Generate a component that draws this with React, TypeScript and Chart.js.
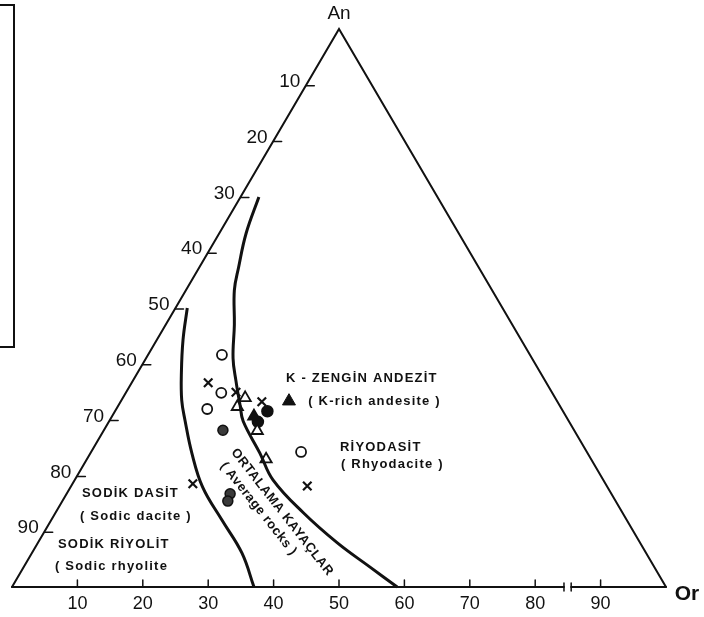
import React, { useEffect, useRef } from "react";
import { Chart, registerables } from "chart.js";

Chart.register(...registerables);

// Tick labels
const leftTickLabels = [10, 20, 30, 40, 50, 60, 70, 80, 90]; // along An–Ab edge (Ab %)
const baseTickLabels = [10, 20, 30, 40, 50, 60, 70, 80, 90]; // along Ab–Or edge (Or %)

// Boundary curves (An %, Or %)
const leftCurveAn = [50.0, 44.3, 38.4, 33.5, 29.9, 24.0, 17.9, 12.0, 6.1, 0];
const leftCurveOr = [1.8, 4.0, 6.7, 9.2, 11.5, 15.5, 20.2, 26.1, 32.1, 37.0];
const rightCurveAn = [69.9, 63.4, 57.3, 53.2, 47.0, 41.0, 36.9, 32.4, 29.7, 24.0, 19.2, 13.3, 7.9, 3.6, 0];
const rightCurveOr = [2.8, 4.1, 6.0, 7.4, 10.5, 13.3, 15.8, 18.7, 20.5, 25.9, 30.3, 37.9, 45.8, 52.9, 58.9];

// Samples (An %, Or %)
const openCircleAn = [41.6, 34.8, 31.9, 24.2];
const openCircleOr = [11.3, 14.6, 13.9, 32.1];
const crossAn = [36.6, 34.9, 33.2, 18.5, 18.1];
const crossOr = [11.7, 16.8, 21.6, 18.4, 36.1];
const openTriangleAn = [33.9, 32.3, 28.0, 22.9];
const openTriangleOr = [18.7, 18.3, 23.5, 27.4];
const filledCircleAn = [31.5, 29.6];
const filledCircleOr = [23.3, 22.8];
const filledTriangleAn = [30.6];
const filledTriangleOr = [21.7];
const hatchedCircleAn = [28.1, 16.7, 15.4];
const hatchedCircleOr = [18.2, 25.0, 25.3];
const kRichAndesiteAn = [33.3];
const kRichAndesiteOr = [25.7];

// Field labels: [text, An, x-position(%)]
const fieldLabels: [string, number, number][] = [
  ["K - ZENGİN ANDEZİT", 37.3, 41.9],
  ["( K-rich andesite )", 33.3, 45.3],
  ["RİYODASİT", 25.1, 50.15],
  ["( Rhyodacite )", 22.0, 50.3],
  ["SODİK DASİT", 16.7, 10.7],
  ["( Sodic dacite )", 12.7, 10.4],
  ["SODİK RİYOLİT", 7.7, 7.03],
  ["( Sodic rhyolite", 3.76, 6.57],
];

const toXY = (an: number[], or: number[]) => an.map((a, i) => ({ x: or[i] + a / 2, y: a }));

const ternaryFrame = {
  id: "ternaryFrame",
  beforeDatasetsDraw(chart: any) {
    const { ctx } = chart;
    const xs = chart.scales.x;
    const ys = chart.scales.y;
    const P = (an: number, or: number) => [xs.getPixelForValue(or + an / 2), ys.getPixelForValue(an)];
    ctx.save();
    ctx.strokeStyle = "#111";
    ctx.fillStyle = "#111";
    ctx.lineCap = "round";
    ctx.lineWidth = 2;
    const [ax, ay] = P(100, 0);
    const [lx, ly] = P(0, 0);
    const [rx, ry] = P(0, 100);
    ctx.beginPath();
    ctx.moveTo(lx, ly);
    ctx.lineTo(ax, ay);
    ctx.lineTo(rx, ry);
    ctx.stroke();
    // base with break
    const [g1x] = P(0, 84.4);
    const [g2x] = P(0, 85.5);
    ctx.beginPath();
    ctx.moveTo(lx, ly);
    ctx.lineTo(g1x, ly);
    ctx.moveTo(g2x, ly);
    ctx.lineTo(rx, ry);
    ctx.stroke();
    ctx.lineWidth = 1.5;
    ctx.beginPath();
    ctx.moveTo(g1x, ly - 4);
    ctx.lineTo(g1x, ly + 4);
    ctx.moveTo(g2x, ly - 4);
    ctx.lineTo(g2x, ly + 4);
    ctx.stroke();
    // base ticks & labels
    ctx.font = "18px 'Liberation Sans'";
    ctx.textAlign = "center";
    ctx.textBaseline = "middle";
    baseTickLabels.forEach((v) => {
      const [px, py] = P(0, v);
      ctx.beginPath();
      ctx.moveTo(px, py);
      ctx.lineTo(px, py - 7);
      ctx.stroke();
      ctx.fillText(String(v), px, py + 17);
    });
    // left edge ticks & labels
    ctx.font = "19px 'Liberation Sans'";
    ctx.textAlign = "right";
    leftTickLabels.forEach((v) => {
      const [px, py] = P(100 - v, 0);
      ctx.beginPath();
      ctx.moveTo(px, py + 1);
      ctx.lineTo(px + 8, py + 1);
      ctx.stroke();
      ctx.fillText(String(v), px - 6, py - 3);
    });
    // apex labels
    ctx.textAlign = "center";
    ctx.font = "19px 'Liberation Sans'";
    ctx.fillText("An", ax, ay - 15);
    ctx.font = "bold 21px 'Liberation Sans'";
    ctx.fillText("Or", rx + 21, ry + 7);
    // partial box at left
    ctx.lineWidth = 2;
    ctx.lineCap = "butt";
    ctx.beginPath();
    ctx.moveTo(0, 5);
    ctx.lineTo(14, 5);
    ctx.lineTo(14, 347);
    ctx.lineTo(0, 347);
    ctx.stroke();
    // field labels
    ctx.font = "bold 13px 'Liberation Sans'";
    (ctx as any).letterSpacing = "1.2px";
    ctx.textAlign = "left";
    fieldLabels.forEach(([t, an, x]) => {
      ctx.fillText(t, xs.getPixelForValue(x), ys.getPixelForValue(an));
    });
    // rotated labels along curves
    (ctx as any).letterSpacing = "0.6px";
    const rot = (t: string, an: number, x: number, deg: number) => {
      ctx.save();
      ctx.translate(xs.getPixelForValue(x), ys.getPixelForValue(an));
      ctx.rotate((deg * Math.PI) / 180);
      ctx.textAlign = "center";
      ctx.fillText(t, 0, 0);
      ctx.restore();
    };
    rot("ORTALAMA KAYAÇLAR", 13.4, 41.3, 52);
    rot("( Average rocks )", 14.0, 37.7, 51.5);
    ctx.restore();
  },
};

export default function App() {
  const ref = useRef<HTMLCanvasElement>(null);
  useEffect(() => {
    const pt = (data: any, style: any, radius: number, bg: string, bw: number) => ({
      type: "scatter",
      data,
      pointStyle: style,
      pointRadius: radius,
      pointBackgroundColor: bg,
      pointBorderColor: "#111",
      pointBorderWidth: bw,
      showLine: false,
    });
    const curve = (data: any) => ({
      type: "line",
      data,
      borderColor: "#111",
      borderWidth: 3,
      pointRadius: 0,
      tension: 0.4,
      fill: false,
      showLine: true,
    });
    const chart = new Chart(ref.current as HTMLCanvasElement, {
      type: "scatter",
      data: {
        datasets: [
          curve(toXY(leftCurveAn, leftCurveOr)),
          curve(toXY(rightCurveAn, rightCurveOr)),
          pt(toXY(openCircleAn, openCircleOr), "circle", 5, "#fff", 1.8),
          pt(toXY(crossAn, crossOr), "crossRot", 6, "#111", 2.2),
          pt(toXY(openTriangleAn, openTriangleOr), "triangle", 6.5, "#fff", 1.8),
          pt(toXY(hatchedCircleAn, hatchedCircleOr), "circle", 5, "#3a3a3a", 1.5),
          pt(toXY(filledTriangleAn, filledTriangleOr), "triangle", 7, "#111", 1.5),
          pt(toXY(filledCircleAn, filledCircleOr), "circle", 5.5, "#111", 1.5),
          pt(toXY(kRichAndesiteAn, kRichAndesiteOr), "triangle", 7.5, "#111", 1),
        ] as any,
      },
      options: {
        animation: false,
        responsive: false,
        devicePixelRatio: 1,
        layout: { padding: 0, autoPadding: false },
        plugins: { legend: { display: false }, tooltip: { enabled: false } },
        scales: {
          x: { type: "linear", min: -1.835, max: 105.81, display: false },
          y: { type: "linear", min: -5.376, max: 105.197, display: false },
        },
      },
      plugins: [ternaryFrame],
    } as any);
    return () => chart.destroy();
  }, []);
  return (
    <div style={{ position: "fixed", left: 0, top: 0, width: 704, height: 617, background: "#fff" }}>
      <canvas ref={ref} width={704} height={617} style={{ display: "block" }} />
    </div>
  );
}
